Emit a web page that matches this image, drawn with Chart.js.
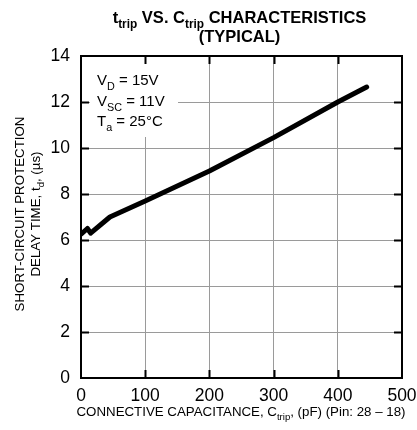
<!DOCTYPE html>
<html>
<head>
<meta charset="utf-8">
<script src="https://cdn.jsdelivr.net/npm/chart.js@4.4.1/dist/chart.umd.min.js"></script>
<style>
  html, body { margin: 0; padding: 0; background: #fff; }
  #wrap { width: 417px; height: 430px; }
</style>
</head>
<body>
<div id="wrap"><canvas id="chart" width="417" height="430"></canvas></div>
<script>
// values
const capPF   = [0, 10, 15, 45, 100, 200, 300, 400, 445];
const delayUs = [6.25, 6.5, 6.3, 7.0, 7.7, 9.0, 10.45, 12.0, 12.65];

const xTicks = [0, 100, 200, 300, 400, 500];
const yTicks = [0, 2, 4, 6, 8, 10, 12, 14];

const FONT = '"Liberation Sans", Arial, Helvetica, sans-serif';

// draw a line of text made of normal / subscript pieces
function richWidth(ctx, parts, size) {
    let w = 0;
    parts.forEach(p => {
        ctx.font = (p.bold ? 'bold ' : '') + (p.sub ? size * 0.72 : size) + 'px ' + FONT;
        w += ctx.measureText(p.t).width;
    });
    return w;
}
function drawRich(ctx, parts, x, y, size, align) {
    let w = richWidth(ctx, parts, size);
    let cx = align === 'center' ? x - w / 2 : x;
    ctx.textAlign = 'left';
    ctx.textBaseline = 'alphabetic';
    parts.forEach(p => {
        ctx.font = (p.bold ? 'bold ' : '') + (p.sub ? size * 0.72 : size) + 'px ' + FONT;
        ctx.fillText(p.t, cx, p.sub ? y + size * 0.3 : y);
        cx += ctx.measureText(p.t).width;
    });
}

const decorPlugin = {
    id: 'decor',
    afterDraw(chart) {
        const ctx = chart.ctx;
        const a = chart.chartArea;
        const xs = chart.scales.x, ys = chart.scales.y;
        ctx.save();
        ctx.fillStyle = '#000';

        // title
        const midX = (a.left + a.right) / 2 - 2;
        drawRich(ctx, [
            {t: 't', bold: true}, {t: 'trip', bold: true, sub: true},
            {t: ' VS. C', bold: true}, {t: 'trip', bold: true, sub: true},
            {t: ' CHARACTERISTICS', bold: true}
        ], midX, 23, 16.5, 'center');
        drawRich(ctx, [{t: '(TYPICAL)', bold: true}], midX, 42, 16.5, 'center');

        // x axis title
        drawRich(ctx, [
            {t: 'CONNECTIVE CAPACITANCE, C'}, {t: 'trip', sub: true},
            {t: ', (pF) (Pin: 28 \u2013 18)'}
        ], 241, 416, 13.3, 'center');

        // y axis title (rotated)
        ctx.save();
        ctx.translate(0, 214);
        ctx.rotate(-Math.PI / 2);
        drawRich(ctx, [{t: 'SHORT-CIRCUIT PROTECTION'}], 0, 24, 13.3, 'center');
        drawRich(ctx, [
            {t: 'DELAY TIME, t'}, {t: 'd', sub: true}, {t: ', (\u00b5s)'}
        ], 0, 40, 13.3, 'center');
        ctx.restore();

        // inner tick marks on all four sides
        ctx.strokeStyle = '#000';
        ctx.lineWidth = 2;
        const tl = 8;
        ctx.beginPath();
        xTicks.slice(1, -1).forEach(v => {
            const px = Math.round(xs.getPixelForValue(v)) + 0.5;
            ctx.moveTo(px, a.top); ctx.lineTo(px, a.top + tl);
            ctx.moveTo(px, a.bottom); ctx.lineTo(px, a.bottom - tl);
        });
        yTicks.slice(1, -1).forEach(v => {
            const py = Math.round(ys.getPixelForValue(v)) + 0.5;
            ctx.moveTo(a.left, py); ctx.lineTo(a.left + tl, py);
            ctx.moveTo(a.right, py); ctx.lineTo(a.right - tl, py);
        });
        ctx.stroke();

        // frame
        ctx.lineWidth = 2;
        ctx.strokeRect(a.left, a.top, a.right - a.left, a.bottom - a.top);

        ctx.restore();
    }
};

// condition box sits over the grid but under the curve
const notePlugin = {
    id: 'note',
    beforeDatasetsDraw(chart) {
        const ctx = chart.ctx;
        const a = chart.chartArea;
        ctx.save();
        ctx.fillStyle = '#fff';
        ctx.fillRect(a.left + 9, a.top + 8, 88, 73);
        ctx.fillStyle = '#000';
        const x0 = a.left + 16;
        drawRich(ctx, [{t: 'V'}, {t: 'D', sub: true}, {t: ' = 15V'}], x0, a.top + 29, 15, 'left');
        drawRich(ctx, [{t: 'V'}, {t: 'SC', sub: true}, {t: ' = 11V'}], x0, a.top + 50, 15, 'left');
        drawRich(ctx, [{t: 'T'}, {t: 'a', sub: true}, {t: ' = 25\u00b0C'}], x0, a.top + 70, 15, 'left');
        ctx.restore();
    }
};

new Chart(document.getElementById('chart'), {
    type: 'scatter',
    data: {
        datasets: [{
            data: capPF.map((c, i) => ({x: c, y: delayUs[i]})),
            showLine: true,
            borderColor: '#000',
            borderWidth: 5,
            borderCapStyle: 'round',
            borderJoinStyle: 'round',
            pointRadius: 0,
            tension: 0
        }]
    },
    options: {
        responsive: false,
        animation: false,
        layout: { padding: { top: 56, right: 15, left: 0, bottom: 0 } },
        plugins: {
            legend: { display: false },
            tooltip: { enabled: false }
        },
        scales: {
            x: {
                type: 'linear',
                min: 0, max: 500,
                afterBuildTicks: s => { s.ticks = xTicks.map(v => ({value: v})); },
                afterFit: s => { s.height = 52; s.paddingLeft = 0; s.paddingRight = 0; },
                grid: { color: '#9a9a9a', lineWidth: 1, drawTicks: false },
                border: { display: false },
                ticks: { color: '#000', padding: 8, maxRotation: 0,
                         font: { family: FONT, size: 17.5 } }
            },
            y: {
                min: 0, max: 14,
                afterBuildTicks: s => { s.ticks = yTicks.map(v => ({value: v})); },
                afterFit: s => { s.width = 81; s.paddingTop = 0; s.paddingBottom = 0; },
                grid: { color: '#9a9a9a', lineWidth: 1, drawTicks: false },
                border: { display: false },
                ticks: { color: '#000', padding: 11,
                         font: { family: FONT, size: 17.5 } }
            }
        }
    },
    plugins: [notePlugin, decorPlugin]
});
</script>
</body>
</html>
